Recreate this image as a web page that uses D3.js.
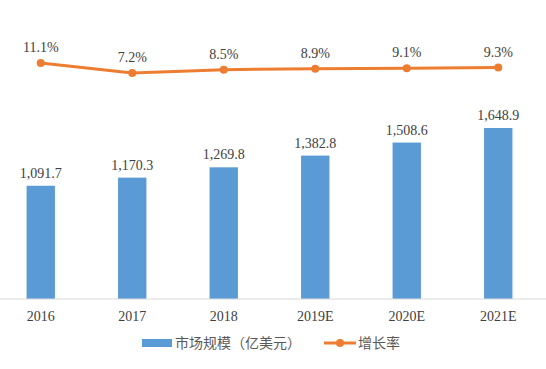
<!DOCTYPE html>
<meta charset="utf-8">
<title>market</title>
<style>
  body { margin: 0; background: #fff; }
  text { fill: #404040; }
  .num { font-family: "Liberation Serif", "DejaVu Serif", serif; font-size: 14px; }
  .leg { font-family: "Noto Sans CJK SC", sans-serif; font-size: 14px; fill: #595959; }
</style>
<body>
<div class="chart"></div>
</body>
<script src="https://d3js.org/d3.v7.min.js"></script>
<script>

// data
var years = ["2016", "2017", "2018", "2019E", "2020E", "2021E"];
var market = [1091.7, 1170.3, 1269.8, 1382.8, 1508.6, 1648.9];
var growth = [11.1, 7.2, 8.5, 8.9, 9.1, 9.3];

var w = 546, h = 369;

var svg = d3.select(".chart").append("svg")
    .attr("width", w)
    .attr("height", h);

var xscale = d3.scaleBand()
  .domain(years)
  .range([-5, 544])
  .paddingInner(0.69)
  .paddingOuter(0.345);

var yscale = d3.scaleLinear()
  .domain([0, 1648.9])
  .range([299, 128]);

var gscale = d3.scaleLinear()
  .domain([7.2, 11.1])
  .range([73, 63]);

var cx = function(d, i) { return xscale(years[i]) + xscale.bandwidth() / 2; };

// bars
svg.selectAll("rect.bar")
  .data(market)
  .enter()
  .append("rect")
  .attr("class", "bar")
  .attr("x", function(d, i) { return xscale(years[i]); })
  .attr("y", function(d) { return yscale(d); })
  .attr("width", xscale.bandwidth())
  .attr("height", function(d) { return yscale(0) - yscale(d); })
  .attr("fill", "#5b9bd5");

svg.selectAll("text.bval")
  .data(market)
  .enter()
  .append("text")
  .attr("class", "num bval")
  .attr("text-anchor", "middle")
  .attr("x", cx)
  .attr("y", function(d) { return yscale(d) - 8; })
  .text(d3.format(",.1f"));

// x axis
var xaxis = d3.axisBottom(xscale).tickSize(0).tickPadding(12);

var gx = svg.append("g")
  .attr("transform", "translate(0," + yscale(0) + ")")
  .call(xaxis);
gx.select(".domain").remove();
gx.append("line")
  .attr("x1", 0).attr("x2", w)
  .attr("stroke", "#d9d9d9").attr("stroke-width", 1.2);
gx.selectAll(".tick text")
  .attr("class", "num")
  .attr("fill", "#404040");

// growth line
var line = d3.line()
  .x(function(d, i) { return cx(d, i); })
  .y(function(d) { return gscale(d); });

svg.append("path")
  .datum(growth)
  .attr("d", line)
  .attr("fill", "none")
  .attr("stroke", "#ed7d31")
  .attr("stroke-width", 3);

svg.selectAll("circle.pt")
  .data(growth)
  .enter()
  .append("circle")
  .attr("class", "pt")
  .attr("cx", cx)
  .attr("cy", function(d) { return gscale(d); })
  .attr("r", 4)
  .attr("fill", "#ed7d31");

svg.selectAll("text.gval")
  .data(growth)
  .enter()
  .append("text")
  .attr("class", "num gval")
  .attr("text-anchor", "middle")
  .attr("x", cx)
  .attr("y", function(d) { return gscale(d) - 11; })
  .text(function(d) { return d.toFixed(1) + "%"; });

// legend
var leg = svg.append("g").attr("transform", "translate(0,343)");
leg.append("rect")
  .attr("x", 142).attr("y", -4)
  .attr("width", 30).attr("height", 8)
  .attr("fill", "#5b9bd5");
leg.append("text")
  .attr("class", "leg")
  .attr("x", 175).attr("y", 5)
  .text("市场规模（亿美元）");
leg.append("line")
  .attr("x1", 324).attr("x2", 356)
  .attr("stroke", "#ed7d31").attr("stroke-width", 3);
leg.append("circle")
  .attr("cx", 340).attr("r", 4)
  .attr("fill", "#ed7d31");
leg.append("text")
  .attr("class", "leg")
  .attr("x", 358).attr("y", 5)
  .text("增长率");

</script>
